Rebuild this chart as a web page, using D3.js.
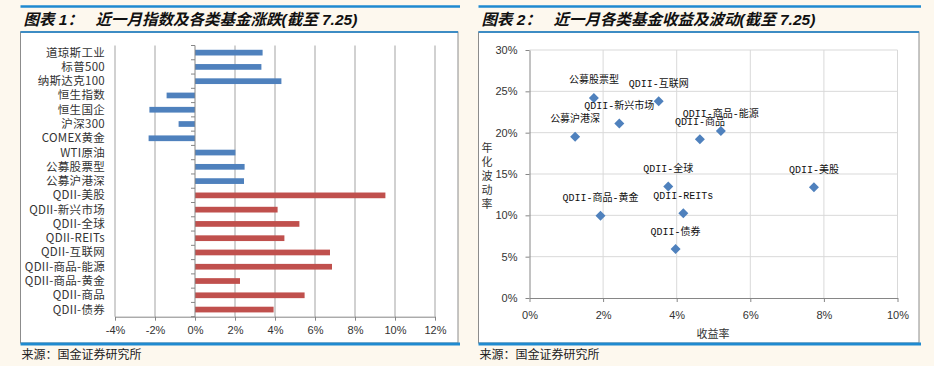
<!DOCTYPE html>
<html>
<head>
<meta charset="utf-8">
<script src="https://cdn.jsdelivr.net/npm/d3@7"></script>
<style>
  html, body { margin: 0; padding: 0; background: #fdf8ee; }
  svg { display: block; }
</style>
</head>
<body>
<div id="chart"></div>
<script>
// ---- data: left chart (1-month change, %) ----
const marketCats = ["道琼斯工业", "标普500", "纳斯达克100", "恒生指数", "恒生国企", "沪深300", "COMEX黄金", "WTI原油", "公募股票型", "公募沪港深"];
const marketChange = [3.38, 3.32, 4.32, -1.42, -2.28, -0.82, -2.32, 2.02, 2.48, 2.45];
const qdiiCats = ["QDII-美股", "QDII-新兴市场", "QDII-全球", "QDII-REITs", "QDII-互联网", "QDII-商品-能源", "QDII-商品-黄金", "QDII-商品", "QDII-债券"];
const qdiiChange = [9.52, 4.13, 5.22, 4.47, 6.75, 6.85, 2.25, 5.48, 3.93];
const barTicks = [-4, -2, 0, 2, 4, 6, 8, 10, 12];

// ---- data: right chart (return vs annualised volatility, %) ----
const fundNames = ["公募股票型", "公募沪港深", "QDII-新兴市场", "QDII-互联网", "QDII-商品", "QDII-商品-能源", "QDII-全球", "QDII-美股", "QDII-商品-黄金", "QDII-REITs", "QDII-债券"];
const fundReturn = [1.75, 1.24, 2.44, 3.51, 4.63, 5.20, 3.77, 7.73, 1.93, 4.18, 3.97];
const fundVol = [24.2, 19.5, 21.1, 23.8, 19.2, 20.2, 13.5, 13.4, 9.95, 10.24, 5.92];
const xTicks2 = [0, 2, 4, 6, 8, 10];
const yTicks2 = [0, 5, 10, 15, 20, 25, 30];

const W = 934, H = 366;
const blue = "#4f81bd", red = "#c0504d";
const cjk = "'Noto Sans CJK SC', 'Noto Sans', sans-serif";

const svg = d3.select("#chart").append("svg")
    .attr("width", W).attr("height", H)
    .style("font-family", cjk);

svg.append("rect").attr("width", W).attr("height", H).attr("fill", "#fdf8ee");

// panel frame + title
function panel(x0, x1, num, title) {
    const g = svg.append("g");
    g.append("rect").attr("x", x0).attr("y", 32).attr("width", x1 - x0).attr("height", 311)
        .attr("fill", "#fff").attr("stroke", "#8c8c8c").attr("stroke-width", 1);
    g.append("line").attr("x1", x0).attr("x2", x1 + 2).attr("y1", 6.5).attr("y2", 6.5)
        .attr("stroke", "#1f8ad0").attr("stroke-width", 2.5);
    g.append("line").attr("x1", x0).attr("x2", x1).attr("y1", 32).attr("y2", 32)
        .attr("stroke", "#3d8cc4").attr("stroke-width", 2);
    g.append("line").attr("x1", x0).attr("x2", x1 + 2).attr("y1", 344).attr("y2", 344)
        .attr("stroke", "#1f8ad0").attr("stroke-width", 3);
    g.append("text").attr("x", x0 + 3).attr("y", 25)
        .style("font-family", "'Liberation Sans', " + cjk)
        .style("font-style", "italic").style("font-weight", "bold").style("font-size", "15.5px")
        .attr("fill", "#111").text(`图表 ${num}：`);
    g.append("text").attr("x", x0 + 75).attr("y", 25)
        .style("font-family", "'Liberation Sans', " + cjk)
        .style("font-style", "italic").style("font-weight", "bold").style("font-size", "15.5px")
        .attr("fill", "#111").text(title);
    g.append("text").attr("x", x0 + 1).attr("y", 359)
        .style("font-size", "12px").attr("fill", "#222").text("来源：国金证券研究所");
}
panel(20.5, 458, 1, "近一月指数及各类基金涨跌(截至 7.25)");
panel(478.5, 919, 2, "近一月各类基金收益及波动(截至 7.25)");

// ---- left: horizontal bars ----
const barData = marketCats.map((c, i) => ({ cat: c, v: marketChange[i], color: blue }))
    .concat(qdiiCats.map((c, i) => ({ cat: c, v: qdiiChange[i], color: red })));

const x1 = d3.scaleLinear().domain([-4, 12]).range([115, 435]);
const y1 = d3.scaleBand().domain(barData.map(d => d.cat)).range([45.5, 316.7])
    .paddingInner(0.6).paddingOuter(0.3);

const left = svg.append("g");

left.append("g").selectAll("line")
    .data(barTicks.filter(t => t !== 0))
    .join("line")
    .attr("x1", d => x1(d)).attr("x2", d => x1(d))
    .attr("y1", 45.5).attr("y2", 316.7)
    .attr("stroke", "#a3a3a3").attr("stroke-width", 1);

left.selectAll("rect.bar")
    .data(barData)
    .join("rect")
    .attr("class", "bar")
    .attr("x", d => x1(Math.min(0, d.v)))
    .attr("width", d => Math.abs(x1(d.v) - x1(0)))
    .attr("y", d => y1(d.cat))
    .attr("height", y1.bandwidth())
    .attr("fill", d => d.color);

// category axis at zero
const step = y1.step();
const gap = step - y1.bandwidth();
const bounds = barData.map(d => y1(d.cat) - gap / 2).concat([y1(barData[barData.length - 1].cat) + y1.bandwidth() + gap / 2]);
left.append("line").attr("x1", x1(0)).attr("x2", x1(0)).attr("y1", 45.5).attr("y2", 316.7)
    .attr("stroke", "#868686");
left.append("g").selectAll("line").data(bounds).join("line")
    .attr("x1", x1(0) - 4).attr("x2", x1(0)).attr("y1", d => d).attr("y2", d => d)
    .attr("stroke", "#868686");
left.append("g").selectAll("text").data(barData).join("text")
    .attr("x", 105).attr("y", d => y1(d.cat) + y1.bandwidth() / 2)
    .attr("dy", "0.35em").attr("text-anchor", "end")
    .style("font-size", "11.5px").style("letter-spacing", "0.3px").attr("fill", "#333").text(d => d.cat);

const xAxis1 = left.append("g").attr("transform", "translate(0,316.7)")
    .call(d3.axisBottom(x1).tickValues(barTicks).tickFormat(d => d + "%").tickSize(4).tickSizeOuter(0));
xAxis1.select(".domain").attr("stroke", "#868686");
xAxis1.selectAll(".tick line").attr("stroke", "#868686");
xAxis1.selectAll(".tick text").attr("dy", "0.9em").style("font-size", "11px").style("font-family", "'Liberation Sans', sans-serif").attr("fill", "#333");

// ---- right: scatter ----
const x2 = d3.scaleLinear().domain([0, 10]).range([529.5, 897.5]);
const y2 = d3.scaleLinear().domain([0, 30]).range([298, 50]);
const right = svg.append("g");

right.append("g").selectAll("line").data(yTicks2.filter(t => t !== 0)).join("line")
    .attr("x1", x2(0)).attr("x2", x2(10)).attr("y1", d => y2(d)).attr("y2", d => y2(d))
    .attr("stroke", "#d9d9d9");
right.append("g").selectAll("line").data(xTicks2.filter(t => t !== 0)).join("line")
    .attr("x1", d => x2(d)).attr("x2", d => x2(d)).attr("y1", y2(30)).attr("y2", y2(0))
    .attr("stroke", "#d9d9d9");

const xAxis2 = right.append("g").attr("transform", `translate(0,${y2(0)})`)
    .call(d3.axisBottom(x2).tickValues(xTicks2).tickFormat(d => d + "%").tickSize(4).tickSizeOuter(0));
const yAxis2 = right.append("g").attr("transform", `translate(${x2(0)},0)`)
    .call(d3.axisLeft(y2).tickValues(yTicks2).tickFormat(d => d + "%").tickSize(4).tickSizeOuter(0));
[xAxis2, yAxis2].forEach(a => {
    a.select(".domain").attr("stroke", "#868686");
    a.selectAll(".tick line").attr("stroke", "#868686");
    a.selectAll(".tick text").style("font-size", "11px").style("font-family", "'Liberation Sans', sans-serif").attr("fill", "#333");
});
xAxis2.selectAll(".tick text").attr("dy", "1.3em");
yAxis2.selectAll(".tick text").attr("x", -12);

right.append("text").attr("x", 713).attr("y", 338).attr("text-anchor", "middle")
    .style("font-size", "11px").attr("fill", "#333").text("收益率");
// vertical stacked axis title
right.append("text").attr("x", 487).attr("y", 142)
    .style("writing-mode", "vertical-rl").style("text-orientation", "upright")
    .style("letter-spacing", "3px").style("font-size", "11px")
    .attr("fill", "#333").text("年化波动率");

const pts = fundNames.map((n, i) => ({ name: n, r: fundReturn[i], v: fundVol[i] }));
right.append("g").selectAll("path").data(pts).join("path")
    .attr("d", d3.symbol(d3.symbolSquare, 50))
    .attr("transform", d => `translate(${x2(d.r)},${y2(d.v)}) rotate(45)`)
    .attr("fill", blue);
right.append("g").selectAll("text").data(pts).join("text")
    .attr("x", d => x2(d.r)).attr("y", d => y2(d.v) - 18).attr("dy", "0.35em")
    .attr("text-anchor", "middle")
    .style("font-family", "'Liberation Mono', " + cjk).style("font-size", "10px")
    .attr("fill", "#111").text(d => d.name);
</script>
</body>
</html>
